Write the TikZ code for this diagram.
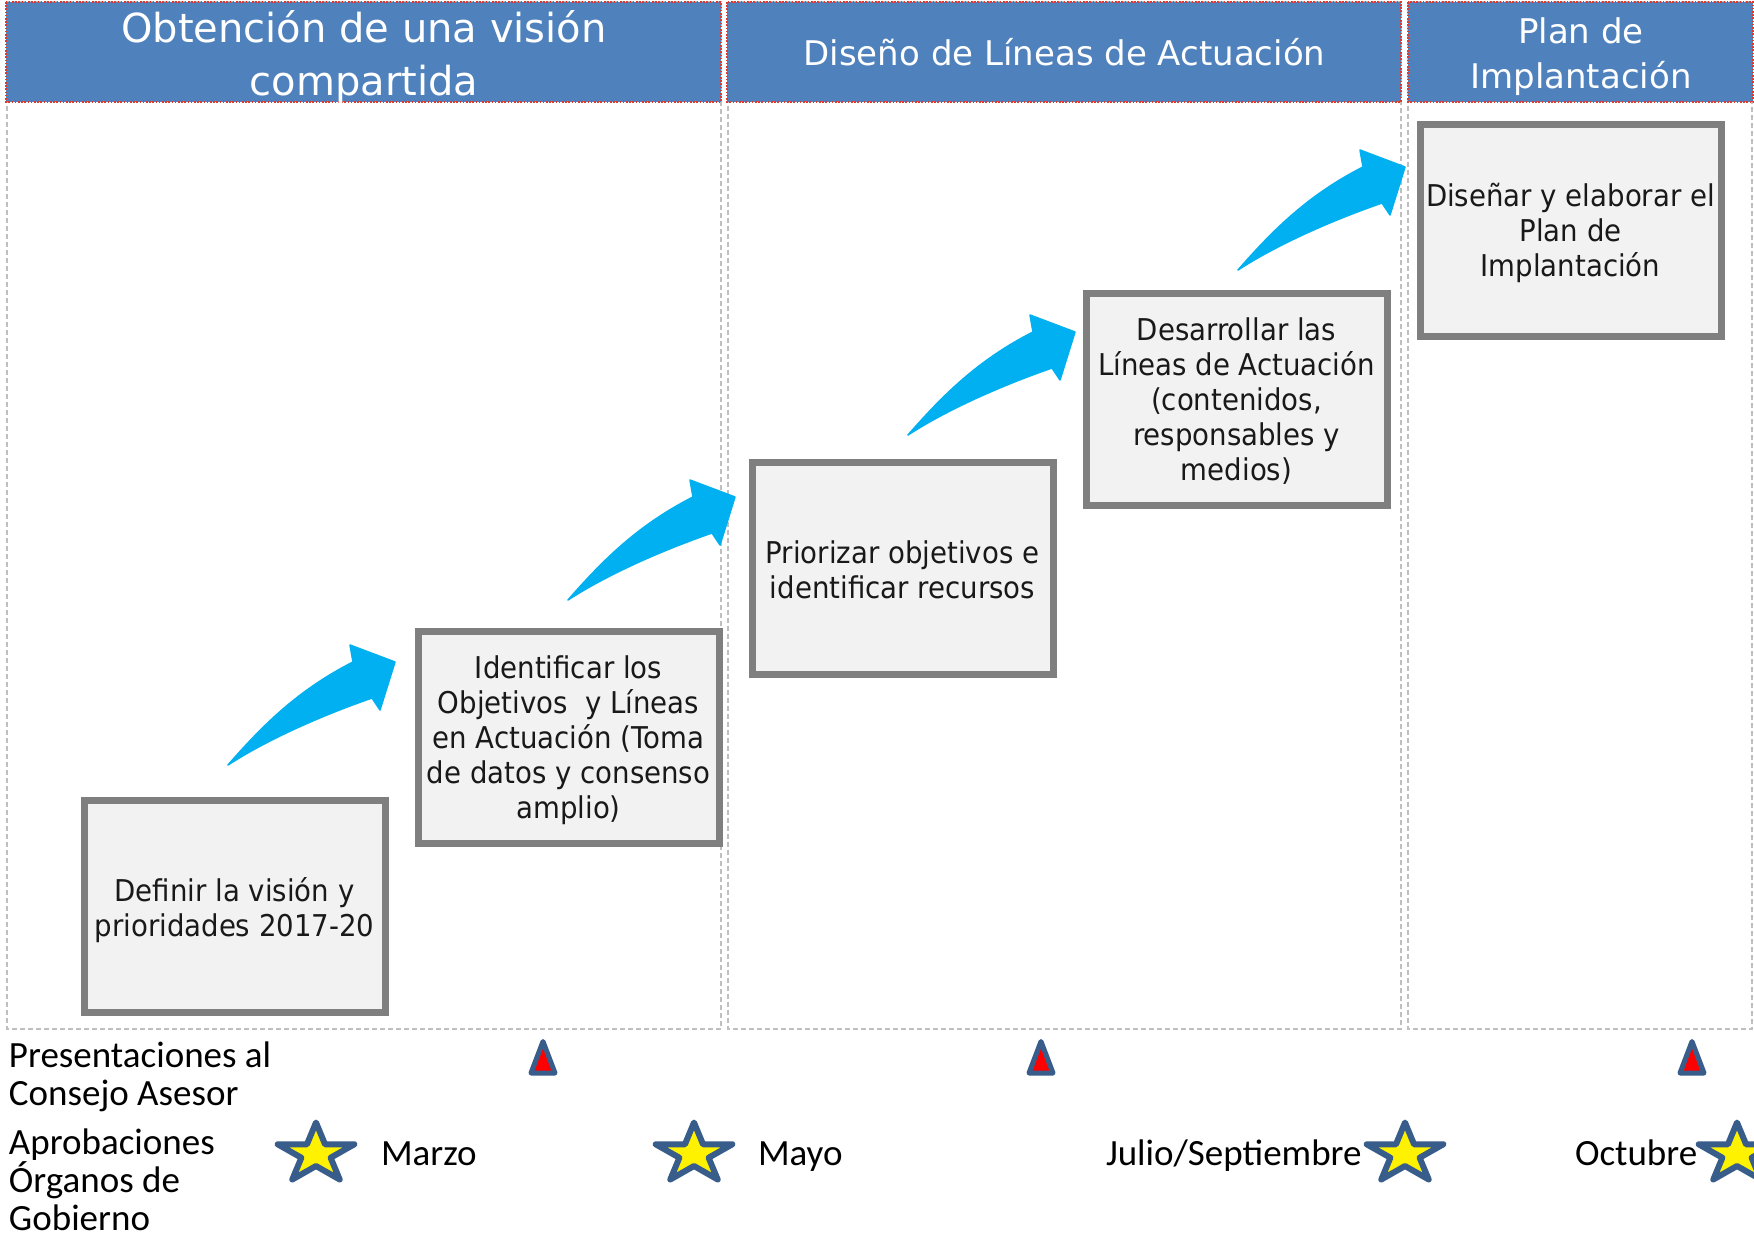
\documentclass[tikz,border=0pt]{standalone}
\usepackage{fontspec}
\setmainfont{DejaVu Sans}
\newfontfamily\boxfont[FakeStretch=0.92]{DejaVu Sans}
\newfontfamily\calfont{Carlito}
\definecolor{headblue}{RGB}{79,129,189}
\definecolor{dotred}{RGB}{222,58,48}
\definecolor{colgray}{RGB}{191,191,191}
\definecolor{boxgray}{RGB}{127,127,127}
\definecolor{boxfill}{RGB}{242,242,242}
\definecolor{arrowblue}{RGB}{0,176,240}
\definecolor{outlineblue}{RGB}{56,93,138}
\tikzset{
  coldash/.style={draw=colgray, line width=1.3pt, dash pattern=on 5pt off 3pt},
  headfill/.style={fill=headblue, draw=dotred, line width=1.6pt, dash pattern=on 1.6pt off 1.6pt},
  headtext/.style={text=white, align=center},
  stepbox/.style={draw=boxgray, line width=7pt, fill=boxfill, minimum width=301pt, minimum height=212pt,
    align=center, font=\boxfont\fontsize{30}{35}\selectfont},
  boxtext/.style={align=center, font=\boxfont\fontsize{30}{35}\selectfont, text=black!90},
  caltext/.style={font=\calfont\fontsize{37}{38}\selectfont, align=left},
  bluearrow/.pic={\fill[arrowblue, draw=arrowblue, line width=1.5pt, line join=round]
    (0,0) .. controls (35,-40) and (70,-75) .. (125,-103) -- (122,-120) -- (167,-103)
    -- (152,-55) -- (144,-67) .. controls (95,-50) and (40,-26) .. (0,0) -- cycle;},
  redtri/.pic={\filldraw[fill=red, draw=outlineblue, line width=5pt, line join=round]
    (0,-16) -- (12,15.5) -- (-12,15.5) -- cycle;},
  yellowstar/.pic={\filldraw[fill=yellow, draw=outlineblue, line width=6pt, line join=round, xscale=1.28]
    (-90:31.5) -- (-54:12) -- (-18:31.5) -- (18:12) -- (54:31.5) -- (90:12) -- (126:31.5)
    -- (162:12) -- (198:31.5) -- (234:12) -- cycle;}
}
\begin{document}
\begin{tikzpicture}[x=1pt,y=-1pt, every node/.style={inner sep=0pt, outer sep=0pt}]
\useasboundingbox (0,0) rectangle (1754,1237);
\fill[white] (0,0) rectangle (1754,1237);
% columns
\draw[coldash] (7,2) rectangle (721,1029);
\draw[coldash] (728,2) rectangle (1401,1029);
\draw[coldash] (1408,2) rectangle (1752,1029);
% headers
\path[headfill] (6,2) rectangle (721,102);
\path[headfill] (727,2) rectangle (1401,102);
\path[headfill] (1408,2) rectangle (1753,102);
\node[headtext, font=\fontsize{40}{53}\selectfont] (h1) at (364,57) {Obtención de una visión\\compartida};
\node[headtext, font=\fontsize{34}{40}\selectfont, anchor=base] (h2) at (1064.5,65) {Diseño de Líneas de Actuación};
\node[headtext, font=\fontsize{34}{45}\selectfont] (h3) at (1581,56.6) {Plan de\\Implantación};
% boxes
\node[stepbox] (b1) at (234.5,906) {};
\node[stepbox] (b2) at (568.5,737) {};
\node[stepbox] (b3) at (902.5,568) {};
\node[stepbox] (b4) at (1236.5,399) {};
\node[stepbox] (b5) at (1570.5,230) {};
\node[boxtext] (tb1) at ([yshift=-4.5pt]b1.center) {Definir la visión y\\prioridades 2017-20};
\node[boxtext] (tb2) at ([yshift=-3.5pt]b2.center) {Identificar los\\Objetivos\ \ y Líneas\\en Actuación (Toma\\de datos y consenso\\amplio)};
\node[boxtext] (tb3) at ([yshift=-1.5pt]b3.center) {Priorizar objetivos e\\identificar recursos};
\node[boxtext] (tb4) at ([yshift=-2pt]b4.center) {Desarrollar las\\Líneas de Actuación\\(contenidos,\\responsables y\\medios)};
\node[boxtext] (tb5) at ([yshift=-2.5pt]b5.center) {Diseñar y elaborar el\\Plan de\\Implantación};
% arrows
\coordinate (a1) at (228,765);
\coordinate (a2) at (568,600);
\coordinate (a3) at (908,435);
\coordinate (a4) at (1238,270);
\pic at (a1) {bluearrow};
\pic at (a2) {bluearrow};
\pic at (a3) {bluearrow};
\pic at (a4) {bluearrow};
% triangles
\coordinate (t1) at (543,1057.5);
\coordinate (t2) at (1041,1057.5);
\coordinate (t3) at (1692,1057.5);
\pic at (t1) {redtri};
\pic at (t2) {redtri};
\pic at (t3) {redtri};
% stars
\coordinate (s1) at (316,1154);
\coordinate (s2) at (694,1154);
\coordinate (s3) at (1405,1154);
\coordinate (s4) at (1737,1154);
\pic at (s1) {yellowstar};
\pic at (s2) {yellowstar};
\pic at (s3) {yellowstar};
\pic at (s4) {yellowstar};
% labels
\node[caltext, anchor=west] (l1) at (9,1077) {Presentaciones al\\Consejo Asesor};
\node[caltext, anchor=west] (l2) at (9,1180) {Aprobaciones\\Órganos de\\Gobierno};
\node[caltext, anchor=base west] (m1) at (381,1165) {Marzo};
\node[caltext, anchor=base west] (m2) at (758,1165) {Mayo};
\node[caltext, anchor=base west] (m3) at (1106,1165) {Julio/Septiembre};
\node[caltext, anchor=base west] (m4) at (1575,1165) {Octubre};
\end{tikzpicture}
\end{document}
